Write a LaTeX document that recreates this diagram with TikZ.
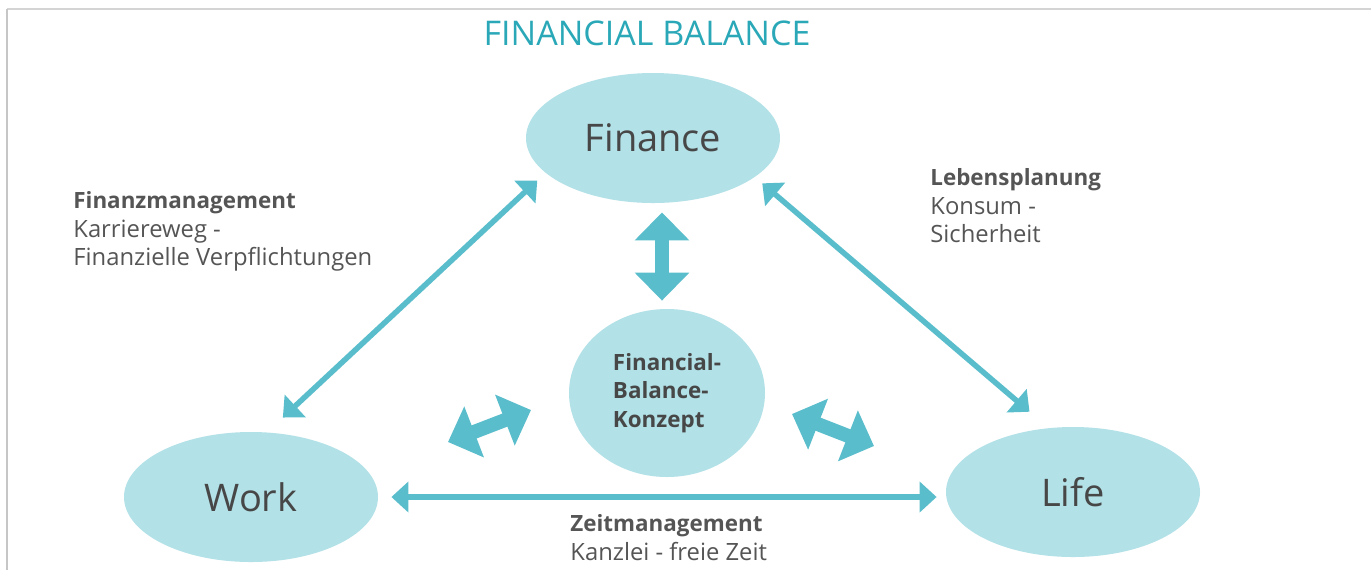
\documentclass[tikz,border=0pt]{standalone}
\usepackage{fontspec}
\setmainfont{Open Sans}
\usetikzlibrary{shapes.geometric,arrows.meta,positioning}
\definecolor{ovalfill}{HTML}{B2E1E7}
\definecolor{arrowteal}{HTML}{5ABDCC}
\definecolor{titleteal}{HTML}{2AA8B8}
\definecolor{textgray}{HTML}{555555}
\definecolor{framegray}{HTML}{D4D4D4}
\newcommand{\hd}[1]{{\fontsize{11.2}{14.3}\selectfont\bfseries #1}}
\begin{document}
\begin{tikzpicture}[x=0.5pt,y=-0.5pt,
  oval/.style={ellipse,fill=ovalfill,inner sep=0pt,minimum width=127pt,minimum height=65pt,
    text=black!72,font=\fontsize{19}{23}\selectfont},
  link/.style={draw=arrowteal,line width=2.75pt,
    {Triangle[length=8.5pt,width=15pt]}-{Triangle[length=8.5pt,width=15pt]}},
  fat/.style={draw=arrowteal,line width=7pt,
    {Triangle[length=14pt,width=26.5pt]}-{Triangle[length=14pt,width=26.5pt]}},
  note/.style={align=left,anchor=north west,inner sep=0pt,text=textgray,
    font=\fontsize{11.9}{14.3}\selectfont}]
\useasboundingbox (0,0) rectangle (1371,570);

% frame
\draw[framegray,line width=1pt] (7,9) -- (1371,9);
\draw[gray!45,line width=0.6pt] (7,9) -- (7,570);

\node[font=\fontsize{17}{20}\selectfont,text=titleteal,anchor=base] (title) at (647,45) {FINANCIAL BALANCE};

% ovals
\node[oval] (finance) at (653,138) {Finance};
\node[oval] (work) at (251,497) {Work};
\node[oval] (life) at (1073,492) {Life};
\node[oval,minimum width=98pt,minimum height=84pt,align=left,
  font=\bfseries\fontsize{11.2}{14.3}\selectfont] (concept) at (667,393) {Financial-\\Balance-\\Konzept};

% thin arrows
\draw[link,shorten <=5.5pt,shorten >=10.7pt] (finance.198) -- (work.76);
\draw[link,shorten <=4.75pt,shorten >=12.4pt] (finance.339) -- (life.111);
\draw[link,shorten <=6.5pt,shorten >=4.5pt] (work.east) -- (work.east -| life.west);

% fat arrows
\coordinate (wfat-a) at (448,442);
\coordinate (wfat-b) at (531,410);
\coordinate (lfat-a) at (792,414);
\coordinate (lfat-b) at (874,446);
\draw[fat,shorten <=4.5pt,shorten >=4pt] ([xshift=4.5pt]finance.south) -- ([xshift=-2.5pt]concept.north);
\draw[fat] (wfat-a) -- (wfat-b);
\draw[fat] (lfat-a) -- (lfat-b);

% labels
\node[note] (fin-label) at (73,191) {\hd{Finanzmanagement}\\Karriereweg -\\Finanzielle Verpflichtungen};
\node[note] (life-label) at (930,168) {\hd{Lebensplanung}\\Konsum -\\Sicherheit};
\node[note] (time-label) at (570,514) {\hd{Zeitmanagement}\\Kanzlei - freie Zeit};
\end{tikzpicture}
\end{document}
